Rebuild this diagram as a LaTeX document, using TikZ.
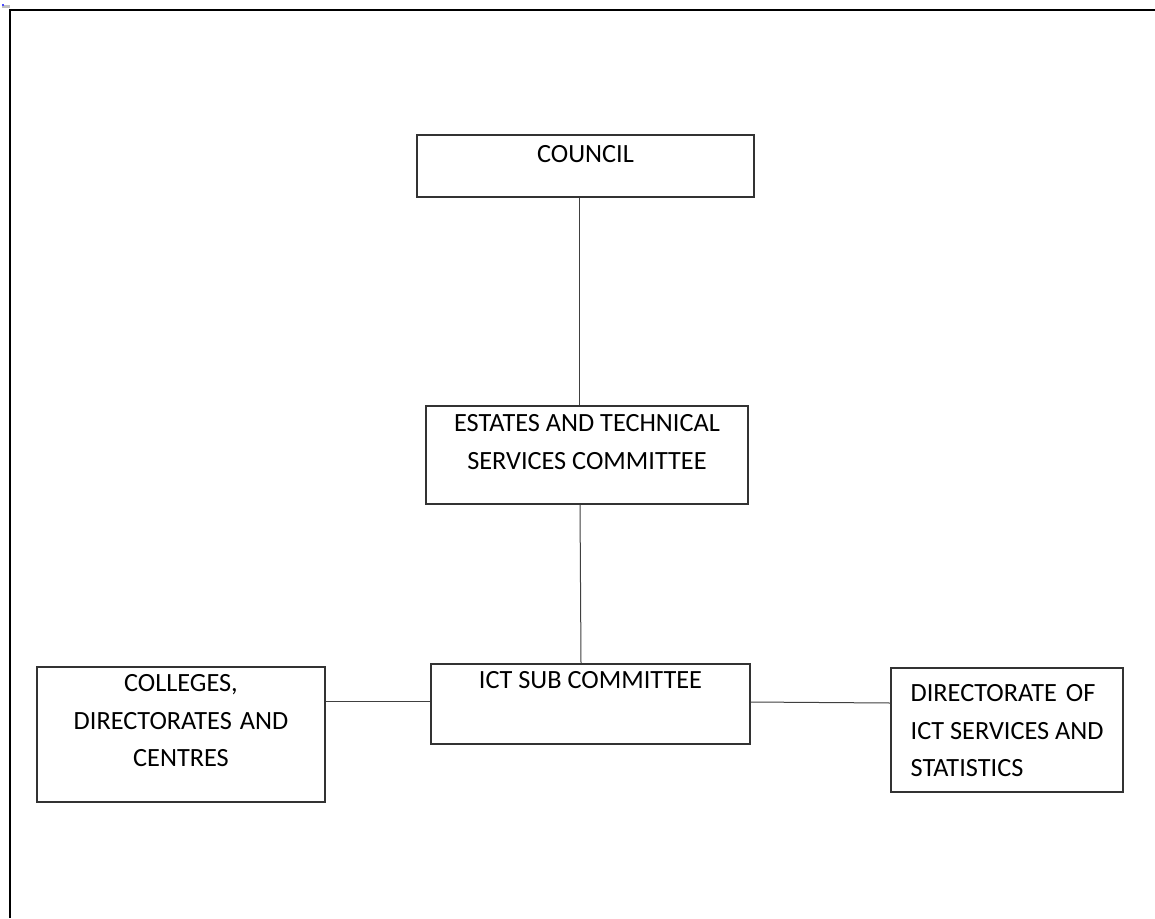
\documentclass[tikz,border=0pt]{standalone}
\usepackage{fontspec}
\setmainfont{Carlito}
\tikzset{>=latex}
\tikzset{
  unit/.style={draw=black!80, line width=1.1pt, rectangle, inner sep=0pt},
  caption/.style={font=\fontsize{26.3}{37.5}\selectfont, inner sep=0pt, align=center, anchor=north},
  link/.style={draw=black!75, line width=1pt}
}

\begin{document}
\begin{tikzpicture}[x=1pt,y=-1pt]
\useasboundingbox (0,0) rectangle (1155,918);
\fill[white] (0,0) rectangle (1155,918);

% page frame
\draw[line width=1.4pt] (10,918) -- (10,10) -- (1155,10);
\fill[black!25] (2,5) rectangle (10,8);
\fill[blue!70] (2,4) rectangle (4,6);

	\node[unit, minimum width=337, minimum height=62] (council) at (585.5,166) {};
	\node[unit, minimum width=322, minimum height=98] (estates) at (587,455) {};
	\node[unit, minimum width=319, minimum height=80] (ictsub) at (590.5,704) {};
	\node[unit, minimum width=288, minimum height=135] (colleges) at (181,734.5) {};
	\node[unit, minimum width=232, minimum height=124] (director) at (1007,730) {};

	\node[caption] (councilt) at ([yshift=-11pt]council.north) {COUNCIL};
	\node[caption] (estatest) at ([yshift=-9pt]estates.north) {ESTATES AND TECHNICAL\\SERVICES COMMITTEE};
	\node[caption] (ictsubt) at ([yshift=-8pt]ictsub.north) {ICT SUB COMMITTEE};
	\node[caption] (collegest) at ([yshift=-8pt]colleges.north) {COLLEGES,\\DIRECTORATES\hspace{8pt}AND\\CENTRES};
	\node[caption, align=left, anchor=north west] (directort) at ([xshift=20pt,yshift=-17pt]director.north west) {DIRECTORATE\hspace{9pt}OF\\ICT SERVICES AND\\STATISTICS};

	\draw[link] ([xshift=-6.5pt]council.south) -- ([xshift=-8pt]estates.north);
	\draw[link] ([xshift=-7pt]estates.south) -- ([xshift=-9.5pt]ictsub.north);
	\draw[link] ([yshift=33.5pt]colleges.east) -- ([yshift=3pt]ictsub.west);
	\draw[link] ([yshift=2pt]ictsub.east) -- ([yshift=27pt]director.west);
\end{tikzpicture}
\end{document}
